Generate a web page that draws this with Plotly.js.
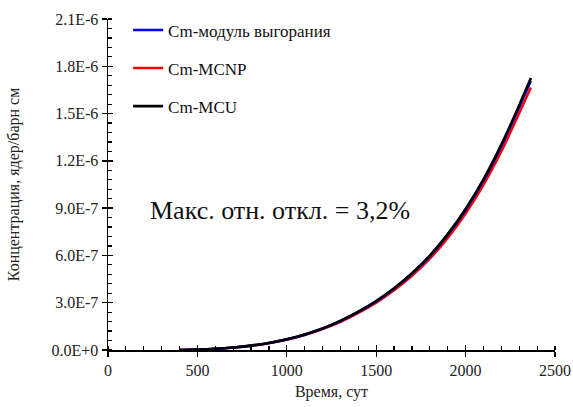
<!DOCTYPE html>
<html>
<head>
<meta charset="utf-8">
<script src="https://cdn.plot.ly/plotly-3.0.1.min.js"></script>
<style>
  html, body { margin: 0; padding: 0; background: #fff; }
  #chart { width: 573px; height: 407px; }
</style>
</head>
<body>
<div id="chart"></div>
<script>
// Время, сут
const days = [400, 500, 600, 700, 800, 900, 1000, 1100, 1200, 1300, 1400, 1500,
              1600, 1700, 1800, 1900, 2000, 2100, 2200, 2300, 2365];

// Концентрация Cm, ядер/барн см
const cmBurnup = [0, 0.0030e-6, 0.0079e-6, 0.0159e-6, 0.0278e-6, 0.0447e-6, 0.0675e-6, 0.0973e-6,
                  0.1360e-6, 0.1837e-6, 0.2413e-6, 0.3088e-6, 0.3893e-6, 0.4836e-6, 0.5948e-6,
                  0.7299e-6, 0.8887e-6, 1.0754e-6, 1.2939e-6, 1.5421e-6, 1.7080e-6];
const cmMCNP   = [0, 0.0029e-6, 0.0077e-6, 0.0155e-6, 0.0271e-6, 0.0436e-6, 0.0658e-6, 0.0949e-6,
                  0.1326e-6, 0.1791e-6, 0.2352e-6, 0.3010e-6, 0.3795e-6, 0.4714e-6, 0.5798e-6,
                  0.7115e-6, 0.8664e-6, 1.0483e-6, 1.2613e-6, 1.5033e-6, 1.6650e-6];
const cmMCU    = [0, 0.0030e-6, 0.0080e-6, 0.0160e-6, 0.0280e-6, 0.0450e-6, 0.0680e-6, 0.0980e-6,
                  0.1370e-6, 0.1850e-6, 0.2430e-6, 0.3110e-6, 0.3920e-6, 0.4870e-6, 0.5990e-6,
                  0.7350e-6, 0.8950e-6, 1.0830e-6, 1.3030e-6, 1.5530e-6, 1.7250e-6];

const xTicks = [0, 500, 1000, 1500, 2000, 2500];
const yTicks = [0, 3e-7, 6e-7, 9e-7, 1.2e-6, 1.5e-6, 1.8e-6, 2.1e-6];
const yTickText = ['0.0E+0', '3.0E-7', '6.0E-7', '9.0E-7', '1.2E-6', '1.5E-6', '1.8E-6', '2.1E-6'];

const serif = 'Liberation Serif, Times New Roman, serif';

function curve(y, name, color, rank) {
  return {
    x: days, y: y, name: name, type: 'scatter', mode: 'lines',
    line: { color: color, width: 2.6, shape: 'spline', smoothing: 0.8 },
    legendgroup: name, legendrank: rank
  };
}

const blue = curve(cmBurnup, 'Cm-модуль выгорания', '#0000ff', 1);
const red = curve(cmMCNP, 'Cm-MCNP', '#ff0000', 2);
const black = curve(cmMCU, 'Cm-MCU', '#000000', 3);
// red underneath, black on top
const data = [red, blue, black];

const axisCommon = {
  showgrid: false, zeroline: false, showline: true,
  linecolor: '#000', linewidth: 1.5,
  ticks: 'outside', ticklen: 5, tickwidth: 1.3, tickcolor: '#000',
  tickfont: { family: serif, size: 16, color: '#222' }
};

const layout = {
  width: 573, height: 407,
  margin: { l: 108, r: 18, t: 17, b: 57 },
  font: { family: serif, size: 16, color: '#222' },
  paper_bgcolor: '#fff', plot_bgcolor: '#fff',
  showlegend: true,
  legend: {
    x: 0.045, y: 1.02, xanchor: 'left', yanchor: 'top',
    bgcolor: 'rgba(0,0,0,0)', borderwidth: 0,
    font: { family: serif, size: 17, color: '#111' },
    traceorder: 'grouped', tracegroupgap: 13
  },
  xaxis: Object.assign({}, axisCommon, {
    range: [0, 2500], tickvals: xTicks,
    minor: { tick0: 0, dtick: 100, ticks: 'inside', ticklen: 4, tickcolor: '#000', tickwidth: 1.2 },
    title: { text: 'Время, сут', font: { family: serif, size: 16, color: '#222' }, standoff: 8 }
  }),
  yaxis: Object.assign({}, axisCommon, {
    range: [0, 2.1e-6], tickvals: yTicks, ticktext: yTickText, automargin: true,
    minor: { tick0: 0, dtick: 6e-8, ticks: 'inside', ticklen: 4, tickcolor: '#000', tickwidth: 1.2 },
    title: { text: 'Концентрация, ядер/барн см', font: { family: serif, size: 16, color: '#222' }, standoff: 28 }
  }),
  // inner halves of the major ticks
  xaxis2: { overlaying: 'x', matches: 'x', anchor: 'y', side: 'bottom', showgrid: false, zeroline: false,
            showline: false, tickvals: xTicks, ticks: 'inside', ticklen: 5, tickwidth: 1.3,
            tickcolor: '#000', showticklabels: false },
  yaxis2: { overlaying: 'y', matches: 'y', anchor: 'x', side: 'left', showgrid: false, zeroline: false,
            showline: false, tickvals: yTicks, ticks: 'inside', ticklen: 5, tickwidth: 1.3,
            tickcolor: '#000', showticklabels: false },
  annotations: [{
    xref: 'paper', yref: 'paper', x: 0.385, y: 0.42,
    xanchor: 'center', yanchor: 'middle', showarrow: false,
    text: 'Макс. отн. откл. = 3,2%',
    font: { family: serif, size: 26, color: '#111' }
  }]
};

// invisible helper trace so the overlay axes are drawn
data.push({ x: [0], y: [0], xaxis: 'x2', yaxis: 'y2', mode: 'markers',
            marker: { opacity: 0 }, showlegend: false, hoverinfo: 'skip' });

Plotly.newPlot('chart', data, layout, { displayModeBar: false, staticPlot: true });
</script>
</body>
</html>
